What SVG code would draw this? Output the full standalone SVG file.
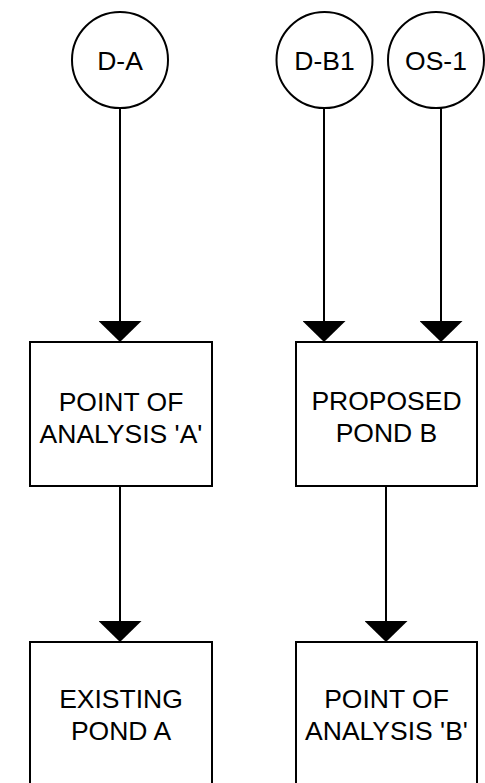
<svg xmlns="http://www.w3.org/2000/svg" width="485" height="783" viewBox="0 0 485 783">
<defs>
<style>
.n{fill:#fff;stroke:#000;stroke-width:2}
.t{font-family:"Liberation Sans",Arial,sans-serif;font-size:26.5px;fill:#000;text-anchor:middle}
.c{stroke:#000;stroke-width:2;fill:none}
</style>
<marker id="ah" viewBox="0 0 21 43" markerWidth="21" markerHeight="43" refX="21" refY="21.5" orient="auto" markerUnits="userSpaceOnUse">
<path d="M0,0 L21,21.5 L0,43 Z" fill="#000"/>
</marker>
</defs>
<rect width="485" height="783" fill="#fff"/>
<g id="connectors">
<line class="c" x1="120" y1="108" x2="120" y2="342" marker-end="url(#ah)"/>
<line class="c" x1="324" y1="108" x2="324" y2="342" marker-end="url(#ah)"/>
<line class="c" x1="441" y1="108" x2="441" y2="342" marker-end="url(#ah)"/>
<line class="c" x1="120" y1="486" x2="120" y2="642" marker-end="url(#ah)"/>
<line class="c" x1="386" y1="486" x2="386" y2="642" marker-end="url(#ah)"/>
</g>
<g id="DA">
<circle class="n" cx="120" cy="60" r="48"/>
<text class="t" x="120" y="70">D-A</text>
</g>
<g id="DB1">
<circle class="n" cx="324.5" cy="60" r="48"/>
<text class="t" x="324.5" y="70">D-B1</text>
</g>
<g id="OS1">
<circle class="n" cx="436" cy="60" r="48"/>
<text class="t" x="436" y="70">OS-1</text>
</g>
<g id="POA_A">
<rect class="n" x="30" y="342" width="182" height="144"/>
<text class="t" x="121" y="411">POINT OF</text>
<text class="t" x="121" y="443">ANALYSIS 'A'</text>
</g>
<g id="PondB">
<rect class="n" x="296" y="342" width="181" height="144"/>
<text class="t" x="386.5" y="410">PROPOSED</text>
<text class="t" x="386.5" y="442">POND B</text>
</g>
<g id="PondA">
<rect class="n" x="30" y="642" width="182" height="160"/>
<text class="t" x="121" y="708">EXISTING</text>
<text class="t" x="121" y="740">POND A</text>
</g>
<g id="POA_B">
<rect class="n" x="296" y="642" width="181" height="160"/>
<text class="t" x="386.5" y="708">POINT OF</text>
<text class="t" x="386.5" y="740">ANALYSIS 'B'</text>
</g>
</svg>
